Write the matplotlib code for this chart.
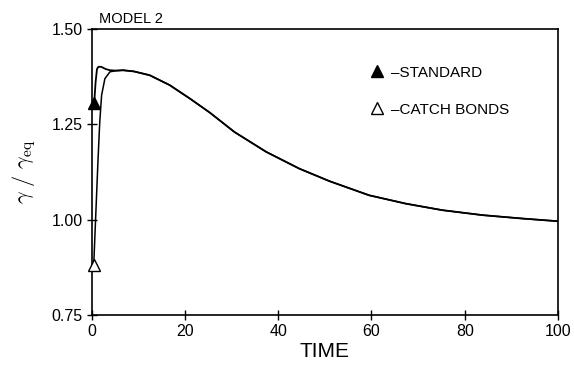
import numpy as np
import matplotlib.pyplot as plt
from matplotlib.lines import Line2D

plt.rcParams['font.family'] = ['Liberation Sans', 'DejaVu Sans']
plt.rcParams['mathtext.fontset'] = 'cm'

# shared tail of both curves
tail_t = [5.3, 6.7, 9, 12.4, 16.7, 21, 25.3, 30.6, 37.4, 44.5, 51, 59.5, 67.4, 75.2, 83.8, 92.4, 100]
tail_y = [1.391, 1.392, 1.389, 1.379, 1.353, 1.318, 1.281, 1.230, 1.178, 1.134, 1.101, 1.064, 1.042, 1.025, 1.012, 1.003, 0.996]

# early part, standard model
std_t = [0.5, 0.8, 1.1, 1.4, 2.0, 3.0, 3.9]
std_y = [1.305, 1.36, 1.395, 1.401, 1.401, 1.395, 1.392]

# early part, catch bonds
cb_t = [0.4, 0.9, 1.3, 1.7, 2.1, 2.8, 3.9]
cb_y = [0.88, 1.03, 1.15, 1.257, 1.327, 1.37, 1.388]

fig = plt.figure(figsize=(5.74, 3.68), dpi=100)
ax = fig.add_axes([0.160, 0.144, 0.812, 0.777])

ax.plot(std_t + tail_t, std_y + tail_y, color='black', lw=1.3, solid_joinstyle='round')
ax.plot(cb_t + tail_t, cb_y + tail_y, color='black', lw=1.1, solid_joinstyle='round')
ax.plot(std_t[0], std_y[0], marker='^', color='black', ms=9, ls='none', clip_on=False, zorder=5)
ax.plot(cb_t[0], cb_y[0], marker='^', mfc='white', mec='black', ms=9, ls='none', clip_on=False, zorder=5)

ax.set_xlim(0, 100)
ax.set_ylim(0.75, 1.50)
ax.set_xticks([0, 20, 40, 60, 80, 100])
ax.set_yticks([0.75, 1.00, 1.25, 1.50])
ax.set_yticklabels(['0.75', '1.00', '1.25', '1.50'])
ax.tick_params(direction='inout', length=7, width=1, labelsize=11.5, pad=3)
for s in ax.spines.values():
    s.set_linewidth(1.2)

ax.set_xlabel('TIME', fontsize=15, labelpad=2)
ax.set_ylabel(r'$\gamma\ /\ \gamma_{\mathrm{eq}}$', fontsize=16, labelpad=10)
ax.text(0.015, 1.01, 'MODEL 2', transform=ax.transAxes, fontsize=10.5, va='bottom', ha='left')

handles = [Line2D([], [], marker='^', color='black', ls='none', ms=9),
           Line2D([], [], marker='^', mfc='white', mec='black', ls='none', ms=9)]
ax.legend(handles, ['\u2013STANDARD', '\u2013CATCH BONDS'], loc='upper left',
          bbox_to_anchor=(0.562, 0.92), frameon=False, fontsize=11,
          handletextpad=0.35, labelspacing=1.5, handlelength=1.2)

fig.savefig('out.png', dpi=100)
